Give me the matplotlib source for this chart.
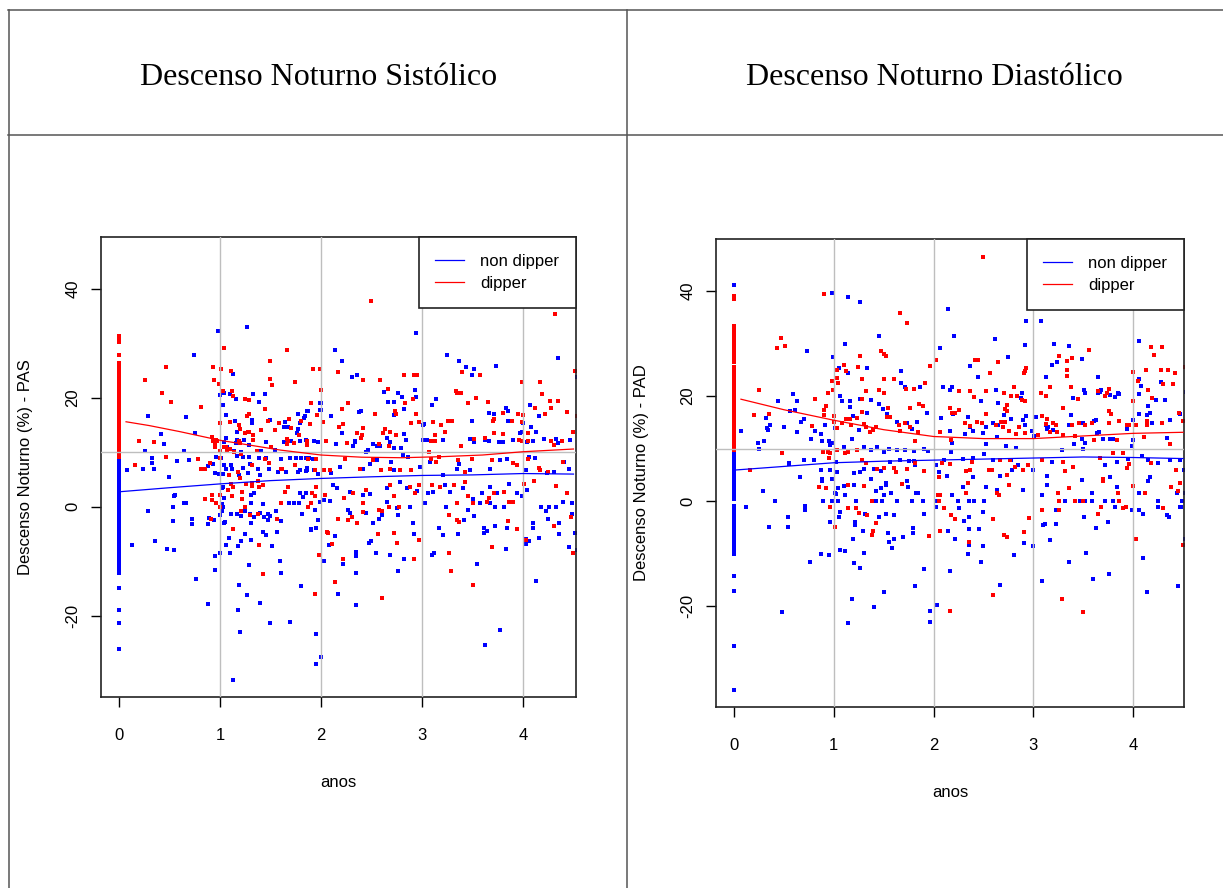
import matplotlib
matplotlib.use('Agg')
import matplotlib.pyplot as plt
from matplotlib.lines import Line2D

W, H = 1223, 888

# ---- Descenso Noturno Sistolico (PAS) ----
pas_non_dipper = [
    (0.98,32.3),(1.27,33.0),(0.74,27.8),(1.13,24.3),(0.29,16.7),(0.66,16.5),(0.75,13.5),(0.42,13.4),
    (0.45,11.5),(0.64,10.3),(0.26,10.3),(0.33,8.9),(0.33,8.1),(0.57,8.4),(0.69,8.6),(0.50,5.4),
    (0.24,7.0),(0.35,6.9),(0.08,6.8),(0.84,7.0),(0.93,7.8),(0.88,7.4),(1.04,20.9),(1.00,20.6),
    (1.10,20.7),(1.33,20.7),(1.45,20.7),(1.39,19.2),(1.16,19.8),(1.03,18.6),(1.06,16.9),(1.15,15.7),
    (1.10,15.6),(1.32,16.0),(1.32,15.4),(1.50,16.0),(1.64,15.5),(1.67,14.7),(1.63,14.6),(1.77,17.0),
    (1.87,17.5),(2.00,19.1),(2.00,17.7),(1.79,15.3),(1.83,16.2),(1.77,14.3),(1.76,13.6),(1.17,13.7),
    (1.17,12.3),(1.24,12.3),(1.06,12.6),(1.04,11.9),(1.07,11.0),(1.16,11.7),(1.29,11.4),(1.46,11.9),
    (1.41,10.2),(1.54,10.4),(1.63,11.8),(1.70,12.1),(1.79,12.0),(1.85,12.2),(1.93,12.1),(1.97,11.9),
    (1.75,8.9),(1.80,8.9),(1.85,8.9),(1.88,8.9),(1.60,8.8),(1.69,8.9),(1.39,8.9),(1.46,8.9),
    (1.29,9.2),(1.17,9.3),(1.23,9.1),(1.14,10.2),(1.21,10.0),(0.96,9.1),(1.01,8.9),(1.04,7.6),
    (1.11,7.7),(1.23,7.1),(1.30,7.8),(1.38,7.0),(1.49,6.9),(1.57,6.3),(1.65,6.3),(1.77,6.3),
    (1.86,7.2),(1.85,6.5),(1.93,6.8),(1.97,6.0),(0.95,6.2),(0.99,6.0),(1.03,6.1),(1.06,7.0),
    (1.12,6.9),(1.19,5.8),(1.28,6.2),(1.40,5.8),
    (2.94,31.9),(2.14,28.8),(2.21,26.7),(2.31,23.9),(2.36,24.2),(3.25,27.8),(3.37,26.7),(3.44,25.6),
    (3.52,25.2),(3.50,24.2),(3.73,25.8),(4.35,27.3),(4.53,23.9),(2.62,21.0),(2.66,19.2),(2.72,19.2),
    (2.76,20.8),(2.80,20.2),(2.93,21.5),(2.94,20.2),(2.82,17.9),(2.72,16.8),(2.38,17.3),(2.40,17.6),
    (2.10,16.6),(1.99,19.0),(1.99,17.8),(1.84,16.6),(1.86,17.5),(3.10,18.7),(3.14,19.7),(3.01,15.0),
    (3.02,15.2),(3.50,15.8),(3.66,17.2),(3.71,17.0),(3.83,18.1),(3.85,17.6),(3.85,15.8),(4.07,18.6),
    (4.08,14.6),(4.13,13.8),(4.16,16.6),(4.00,15.4),(2.21,13.5),(2.15,11.6),(2.32,11.1),(2.34,11.8),
    (2.34,12.1),(2.52,11.5),(2.55,11.2),(2.65,12.7),(2.68,11.8),(2.58,11.1),(2.47,10.4),(2.45,10.1),
    (2.72,10.7),(2.79,10.7),(2.82,13.4),(2.84,12.3),(3.01,12.3),(3.05,12.3),(3.21,12.3),(3.48,12.4),
    (3.52,11.9),(3.62,12.3),(3.66,12.1),(3.76,11.8),(3.80,11.9),(3.90,12.2),(3.97,13.6),(3.99,13.7),
    (4.04,11.8),(4.10,12.0),(4.21,12.4),(4.33,12.4),(4.47,12.2),(4.35,11.7),
    (1.79,6.8),(1.86,6.7),(1.92,8.7),(2.10,6.2),(2.19,7.3),(2.42,7.0),(2.49,7.8),(2.55,8.5),
    (2.69,8.2),(2.72,6.8),(2.81,9.5),(2.86,9.2),(2.98,7.3),(3.08,8.3),(3.21,5.9),(3.35,6.9),
    (3.37,7.8),(3.48,6.7),(3.67,7.0),(3.77,8.6),(3.84,8.8),(4.03,6.8),(4.06,9.2),(4.12,8.9),
    (4.24,6.2),(4.31,6.4),(4.41,8.2),(4.46,6.9),
    (0.54,2.0),(0.55,2.2),(0.64,0.7),(0.66,0.7),(0.53,-0.1),(0.53,-2.6),(0.29,-0.8),(0.72,-2.3),
    (0.72,-3.1),(0.88,-3.1),(0.89,-2.1),(0.94,-2.4),(0.95,-9.0),(1.00,-8.4),(0.95,-11.6),(0.76,-13.3),
    (0.48,-7.8),(0.54,-7.9),(0.36,-6.3),(0.13,-7.0),(0.88,-17.9),(1.18,-18.9),(1.20,-23.0),(1.13,-31.8),
    (1.19,-14.4),(1.27,-16.1),(1.29,-10.7),(1.10,-8.5),(1.09,-5.8),(1.06,-7.1),(1.21,-6.2),(1.18,-7.2),
    (1.31,-6.1),(1.25,-5.0),(1.43,-4.6),(1.46,-5.2),(1.52,-7.2),(1.56,-4.6),(1.59,-9.9),(1.60,-12.2),
    (1.40,-17.7),(1.50,-21.4),(1.69,-21.2),(1.80,-14.6),(1.95,-23.3),(1.95,-28.9),
    (1.00,-1.5),(1.02,-0.8),(1.04,-2.9),(1.05,-2.7),(1.11,-1.3),(1.17,-1.3),(1.21,-1.7),(1.25,-0.7),
    (1.30,-1.35),(1.31,-3.0),(1.34,-1.85),(1.40,-1.1),(1.44,-1.8),(1.48,-1.4),(1.48,-2.45),(1.50,-1.6),
    (1.55,-0.8),(1.60,-2.6),(1.03,3.6),(1.02,3.4),(1.04,1.7),(1.02,0.6),(1.03,-0.1),(1.22,1.5),
    (1.31,2.2),(1.34,2.45),(1.31,0.7),(1.43,0.6),(1.68,0.75),(1.73,0.7),(1.78,0.7),(1.81,-1.35),
    (1.82,1.8),(1.79,2.6),(1.85,2.5),(1.90,-4.1),(1.90,-4.3),(1.95,-3.9),(1.94,-0.6),(1.97,-2.5),
    (1.99,0.8),
    (2.00,-27.6),(2.17,-16.0),(2.35,-18.0),(2.35,-12.2),(2.35,-9.1),(2.35,-8.3),(2.22,-10.5),(2.22,-9.6),
    (2.08,-7.0),(2.14,-5.4),(2.03,-10.0),(2.48,-6.6),(2.50,-6.3),(2.54,-8.5),(2.68,-8.9),(2.82,-9.6),
    (2.76,-11.8),(2.52,-3.0),(2.57,-2.3),(2.60,-1.5),(2.76,-1.5),(2.91,-3.0),(2.92,-5.0),(2.95,2.9),
    (3.10,-8.9),(3.12,-8.5),(3.17,-3.9),(3.21,-5.2),(3.54,-10.5),(3.62,-25.4),(3.77,-22.6),(3.36,-5.0),
    (3.42,-2.45),(3.52,-1.7),(3.61,-3.9),(3.61,-4.8),(3.64,-4.4),(3.72,-3.5),(3.84,-3.9),(3.83,-7.8),
    (4.03,-6.0),(4.06,-6.3),(4.03,-6.9),(4.10,-3.0),(4.10,-3.9),(4.16,-5.8),(4.13,-13.6),(4.25,-2.3),
    (4.36,-3.0),(4.36,-5.0),(4.46,-7.4),(4.53,-7.9),(4.52,-4.8),(4.49,-1.35),
    (2.12,4.0),(2.16,3.5),(2.29,2.7),(2.42,2.2),(2.49,2.4),(2.65,3.4),(2.78,4.6),(2.85,3.4),
    (3.06,2.5),(3.11,2.8),(3.23,4.0),(3.28,2.8),(3.41,3.5),(3.59,2.5),(3.67,3.6),(3.74,2.5),
    (3.86,4.2),(3.94,2.5),(3.99,1.9),(4.04,3.1),(2.03,1.3),(2.09,1.0),(2.27,-0.55),(2.29,-1.2),
    (2.45,-1.2),(2.65,0.8),(2.75,-0.24),(2.88,0.05),(3.03,0.7),(3.24,-0.06),(3.46,-0.67),(3.51,1.4),
    (3.57,0.7),(3.67,0.7),(3.72,-0.06),(3.81,-0.06),(3.90,0.8),(4.18,-0.06),(4.26,-0.06),(4.33,0.05),
    (4.40,0.8),(4.49,0.7),(4.23,-0.86),
]
pas_dipper = [
    (1.04,29.2),(0.47,25.7),(0.93,25.7),(1.01,25.2),(1.11,25.0),(1.50,26.7),(1.66,28.7),(1.92,25.3),
    (1.99,25.3),(0.26,23.2),(0.94,23.2),(0.99,22.5),(1.50,23.5),(1.52,22.3),(1.74,22.9),(0.43,20.9),
    (0.52,19.3),(1.03,21.3),(1.12,21.3),(1.13,20.3),(1.25,19.8),(1.29,19.6),(1.45,17.9),(1.90,19.1),
    (2.00,21.5),(0.81,18.3),(1.00,15.4),(1.10,15.6),(1.29,17.0),(1.27,16.6),(1.19,15.0),(1.20,14.2),
    (1.25,13.6),(1.28,13.7),(1.29,13.7),(1.33,13.2),(1.41,14.0),(1.54,14.0),(1.48,15.7),(1.58,15.4),
    (1.68,16.1),(1.70,14.4),(1.80,15.7),(1.89,15.1),(1.96,16.9),(1.86,12.1),(1.86,11.4),(1.66,12.4),
    (1.67,12.1),(1.78,13.2),(0.20,12.0),(0.35,11.9),(0.92,12.8),(0.93,12.0),(0.96,12.2),(0.97,12.1),
    (0.95,11.6),(0.95,11.0),(1.04,11.0),(1.06,10.9),(1.07,10.3),(1.10,10.6),(1.19,12.0),(1.20,11.7),
    (1.33,12.3),(1.14,10.1),(1.21,9.7),(1.37,10.3),(1.51,10.9),(1.66,11.6),(1.73,11.7),(0.47,9.1),
    (0.78,8.8),(0.90,8.1),(1.00,8.9),(1.00,10.2),(0.16,7.7),(0.81,6.9),(0.85,6.9),(1.09,5.8),
    (1.18,6.4),(1.20,5.3),(1.32,7.6),(1.45,8.8),(1.49,8.0),(1.60,6.9),(1.61,6.9),(1.74,7.6),
    (1.87,8.8),(1.94,6.8),(1.95,8.8),
    (2.50,37.8),(4.32,35.4),(2.17,24.7),(2.42,23.2),(2.58,23.2),(2.66,21.6),(2.82,24.2),(2.92,24.2),
    (2.95,24.2),(2.27,19.1),(2.21,17.9),(2.53,17.1),(2.73,17.5),(2.74,17.1),(2.83,19.1),(2.91,19.7),
    (2.94,17.0),(3.34,21.2),(3.39,20.8),(3.35,20.8),(3.40,24.7),(3.57,24.2),(3.53,19.9),(3.46,19.0),
    (3.65,19.3),(3.99,22.9),(4.17,22.9),(4.19,20.7),(4.27,19.4),(4.35,19.4),(4.12,18.1),(4.22,17.1),
    (4.28,18.2),(4.52,25.0),(4.53,16.6),
    (2.02,15.5),(2.05,12.0),(2.18,14.7),(2.22,15.2),(2.26,11.7),(2.36,13.5),(2.42,14.5),(2.40,12.6),
    (2.41,13.2),(2.61,13.6),(2.63,14.3),(2.68,13.8),(2.74,13.2),(2.67,11.1),(2.57,11.5),(2.89,15.3),
    (2.97,15.5),(3.11,15.5),(3.26,15.8),(3.30,15.8),(3.19,15.0),(3.13,13.1),(3.09,12.1),(3.13,12.0),
    (3.23,13.8),(3.39,11.2),(3.52,12.5),(3.62,12.7),(3.71,13.6),(3.80,13.4),(3.71,16.1),(3.70,15.8),
    (3.80,17.2),(3.89,15.7),(3.95,17.1),(3.99,15.5),(4.05,13.6),(3.96,12.3),(3.99,12.1),(4.05,12.0),
    (4.28,12.1),(4.31,11.4),(4.39,12.0),(4.50,13.8),(4.44,17.3),(4.00,16.8),
    (2.03,6.7),(2.09,6.8),(2.24,8.7),(2.39,7.0),(2.52,8.5),(2.59,6.8),(2.68,7.0),(2.78,6.8),
    (2.89,6.8),(3.07,10.0),(3.09,8.7),(3.14,8.3),(3.17,9.2),(3.36,8.5),(3.43,6.4),(3.50,8.7),
    (3.69,8.6),(3.90,8.0),(3.94,7.6),(4.05,8.8),(4.16,7.1),(4.25,6.4),(4.17,6.8),(4.40,8.3),
    (0.85,1.4),(0.92,2.1),(0.92,1.2),(0.96,0.7),(0.91,-2.2),(1.00,2.1),(1.00,-0.1),(1.11,4.2),
    (1.13,3.6),(1.08,3.1),(1.12,2.0),(1.13,-4.1),(1.21,-0.75),(1.22,1.4),(1.22,2.8),(1.25,-0.06),
    (1.26,4.2),(1.30,-1.5),(1.32,3.9),(1.32,4.3),(1.38,4.8),(1.39,3.6),(1.43,4.0),(1.38,-1.3),
    (1.39,-7.0),(1.43,-12.3),(1.56,-2.3),(1.60,0.7),(1.64,2.8),(1.67,3.6),(1.87,-0.06),(1.90,0.7),
    (1.91,2.5),(1.94,2.0),(1.95,3.6),(1.98,-8.9),(1.94,-16.0),
    (2.14,-13.8),(2.22,-9.6),(2.11,-6.8),(2.06,-4.7),(2.07,-4.8),(2.60,-16.8),(2.56,-5.0),(2.72,-4.8),
    (2.75,-6.7),(2.97,-6.1),(2.92,-9.6),(3.27,-8.5),(3.29,-11.8),(3.51,-14.4),(3.69,-7.3),(3.94,-4.1),
    (4.03,-6.1),(4.31,-3.5),(4.50,-8.5),(4.48,-1.9),(2.17,-2.3),(2.27,-2.5),(2.36,-3.0),(2.31,-1.8),
    (2.57,-0.6),(2.60,-0.7),(2.42,-0.9),(2.42,0.7),(2.67,-0.06),(2.77,-0.06),(3.35,-2.45),(3.37,-2.75),
    (3.27,-1.5),(3.35,0.7),(3.51,0.7),(3.66,1.6),(3.64,0.9),(3.85,-2.6),(3.86,0.8),(3.90,0.8),
    (3.81,2.7),(3.71,2.5),(4.01,4.2),(4.11,4.8),(4.33,3.9),(4.44,2.5),(2.04,2.2),(2.23,1.7),
    (2.32,2.5),(2.45,3.1),(2.68,3.95),(2.72,1.9),(2.88,3.7),(2.93,2.5),(2.97,4.0),(3.10,4.0),
    (3.18,3.6),(3.32,4.0),(3.43,4.5),(3.46,2.0),
]
# values recorded at anos = 0 (the dense column at the left)
pas_non_dipper_at0 = [8.6, 8.1, 7.6, 7.0, 6.5, 6.0, 5.4, 4.9, 4.3, 3.8, 3.3, 2.7, 2.2, 1.6, 1.1, 0.6,
                      0.0, -0.5, -1.1, -1.6, -2.2, -2.7, -3.2, -3.8, -4.3, -4.9, -5.4, -5.9, -6.5,
                      -7.0, -7.8, -8.4, -9.0, -9.5, -10.1, -10.6, -11.2, -11.7, -12.2,
                      -14.9, -19.0, -21.4, -26.1]
pas_dipper_at0 = [31.4, 31.0, 30.2, 27.8, 26.4, 25.9, 25.3, 24.8, 24.2, 23.7, 23.1, 22.6, 22.0, 21.5,
                  20.9, 20.4, 19.8, 19.3, 18.7, 18.2, 17.6, 17.1, 16.5, 16.0, 15.4, 14.9, 14.3, 13.8,
                  13.2, 12.7, 12.1, 11.6, 11.0, 10.5, 9.9, 9.4, 9.2]
pas_non_curve_x = [0.0, 0.5, 1.0, 1.5, 2.0, 2.5, 3.0, 3.5, 4.0, 4.5]
pas_non_curve_y = [2.75, 3.5, 4.2, 4.8, 5.2, 5.5, 5.75, 5.85, 6.1, 6.0]
pas_dip_curve_x = [0.07, 0.3, 0.6, 1.0, 1.3, 1.6, 2.0, 2.4, 2.8, 3.2, 3.6, 4.0, 4.3, 4.5]
pas_dip_curve_y = [15.6, 14.9, 13.8, 12.2, 11.3, 10.4, 9.5, 9.1, 9.0, 9.2, 9.5, 10.1, 10.4, 10.6]

# ---- Descenso Noturno Diastolico (PAD) ----
pad_non_dipper = [
    (0.98,39.6),(1.14,38.8),(1.26,37.9),(1.45,31.5),(1.11,29.9),(0.73,28.6),(0.99,27.5),(1.05,25.4),
    (1.33,25.4),(1.14,24.3),(1.67,24.7),(1.67,22.5),(1.71,21.7),(1.86,21.8),(0.59,20.3),(0.63,19.0),
    (0.44,19.0),(0.56,17.1),(0.61,17.3),(0.70,15.7),(0.67,15.0),(0.32,15.9),(0.36,14.5),(0.33,14.0),
    (0.34,13.5),(0.50,14.1),(0.63,13.1),(0.07,13.4),(0.24,11.0),(0.30,11.5),(0.25,10.0),(0.77,11.9),
    (0.81,13.4),(0.87,12.8),(0.88,11.4),(0.95,11.4),(0.96,10.7),(0.99,11.0),(1.01,14.0),(0.91,14.5),
    (1.06,20.1),(1.08,19.0),(1.16,19.0),(1.16,17.9),(1.26,19.5),(1.37,19.2),(1.19,16.2),(1.33,16.7),
    (1.45,18.5),(1.49,17.5),(1.53,16.6),(1.63,15.1),(1.73,14.8),(1.78,13.7),(1.83,15.1),(1.93,16.7),
    (1.03,9.7),(1.10,10.35),(1.18,11.9),(1.25,13.5),(1.30,10.35),(1.37,9.7),(1.43,10.35),(1.50,9.4),
    (1.55,10.0),(1.63,9.7),(1.71,9.7),(1.80,9.5),(1.90,9.9),(1.94,9.5),
    (0.55,7.2),(0.55,7.0),(0.70,7.9),(0.80,7.9),(0.87,6.0),(0.96,5.9),(1.02,7.5),(1.03,5.6),
    (1.20,5.3),(1.26,5.6),(1.30,6.2),(1.40,6.2),(1.47,5.8),(1.56,7.5),(1.66,7.8),(1.75,7.6),
    (1.80,7.7),(1.81,6.9),(0.66,4.5),(0.88,4.3),(0.98,4.3),(1.37,4.3),
    (2.14,36.6),(2.93,34.3),(3.08,34.3),(2.21,31.5),(2.62,30.9),(2.06,29.1),(2.92,29.8),(3.21,30.0),
    (3.36,29.6),(4.06,30.4),(2.37,25.7),(2.75,27.4),(3.49,27.0),(3.19,26.0),(3.24,26.5),(2.45,23.7),
    (2.48,19.0),(2.65,18.6),(3.13,23.7),(3.65,23.6),(4.06,23.3),(4.08,21.9),(4.06,20.3),(4.28,22.6),
    (4.53,20.7),(2.09,21.8),(2.19,21.8),(2.17,21.2),(2.63,21.2),(2.89,20.5),(2.88,19.7),(3.40,19.6),
    (3.51,21.2),(3.52,20.6),(3.65,20.5),(3.67,20.8),(3.68,21.2),(3.77,20.2),(3.85,20.5),(3.86,20.3),
    (3.82,19.9),(4.15,18.1),(4.17,16.7),(4.23,19.2),(4.32,19.3),
    (2.07,15.9),(2.17,13.3),(2.20,16.6),(2.35,16.0),(2.37,14.2),(2.40,13.4),(2.53,14.2),(2.60,14.8),
    (2.65,14.5),(2.71,16.3),(2.78,15.6),(2.93,16.2),(3.03,16.0),(2.90,15.4),(2.92,14.5),(2.99,13.3),
    (3.13,14.4),(3.14,13.7),(3.20,13.5),(3.36,14.4),(3.38,16.3),(3.50,14.9),(3.61,15.3),(3.63,15.4),
    (3.66,13.2),(3.79,11.9),(3.80,11.9),(3.64,12.9),(3.94,13.8),(4.00,15.4),(4.06,16.5),(4.14,16.3),
    (4.19,14.9),(4.37,15.4),(4.47,16.5),
    (2.19,11.0),(2.32,12.8),(2.50,12.9),(2.53,10.9),(2.64,12.2),(2.73,10.5),(2.83,10.1),(3.01,12.4),
    (3.15,14.2),(3.41,10.9),(3.49,11.9),(3.52,11.0),(3.70,11.9),(3.77,11.9),(4.00,11.6),(3.99,10.5),
    (4.34,12.0),
    (2.02,6.9),(2.10,7.8),(2.18,9.3),(2.30,8.1),(2.40,8.3),(2.51,8.9),(2.60,7.8),(2.67,7.8),
    (2.78,7.8),(2.85,6.9),(3.00,6.0),(3.19,7.5),(3.29,9.7),(3.40,6.4),(3.50,9.9),(3.72,6.9),
    (3.84,7.5),(3.95,8.1),(4.09,8.5),(4.15,7.8),(4.25,7.2),(4.37,7.8),(4.47,7.8),(4.51,5.9),
    (3.77,4.6),(3.14,4.8),(4.17,4.6),(2.05,5.6),(2.13,4.8),(2.40,4.6),(2.67,4.7),(2.79,6.0),
    (0.12,-1.2),(0.29,2.0),(0.41,-0.05),(0.54,-3.1),(0.35,-5.0),(0.54,-5.0),(0.48,-21.2),(0.71,-1.0),
    (0.71,-1.6),(0.76,-11.5),(0.89,-0.05),(0.88,3.9),(0.96,-3.9),(0.87,-10.0),(0.95,-10.3),(0.98,-0.05),
    (1.01,1.5),(1.02,1.3),(1.04,2.4),(1.04,-0.05),(1.06,-2.0),(1.05,-3.1),(1.06,-9.3),(1.11,-9.5),
    (1.11,1.2),(1.10,2.8),(1.19,-7.3),(1.20,3.0),(1.22,-0.05),(1.21,-4.0),(1.21,-4.6),(1.20,-11.7),
    (1.26,-12.8),(1.14,-23.3),(1.18,-18.7),(1.30,-9.8),(1.29,-5.6),(1.31,-2.5),(1.40,-20.1),(1.42,2.0),
    (1.42,-0.05),(1.45,-3.1),(1.48,-0.05),(1.47,2.4),(1.50,1.2),(1.52,3.5),(1.52,3.0),(1.52,-2.5),
    (1.54,-6.0),(1.55,-7.8),(1.58,-9.0),(1.60,-7.3),(1.57,1.5),(1.60,-2.7),(1.50,-17.4),(1.63,-0.05),
    (1.69,-6.9),(1.74,2.6),(1.73,3.8),(1.78,-0.05),(1.79,-5.2),(1.79,-6.0),(1.81,-16.1),(1.82,1.5),
    (1.84,1.5),(1.89,-0.05),(1.90,-2.5),(1.90,-13.0),(1.96,-21.0),(1.96,-23.1),
    (2.03,-19.7),(2.17,-13.4),(2.14,-5.6),(2.22,-7.3),(2.36,-5.4),(2.35,-10.0),(2.36,-8.3),(2.46,-5.4),
    (2.48,-11.5),(2.50,-8.6),(2.67,-15.9),(2.81,-10.3),(2.91,-7.9),(3.00,-8.6),(3.09,-15.3),(3.10,-4.6),
    (3.12,-4.3),(3.17,-7.5),(3.23,-4.3),(3.36,-11.5),(3.53,-9.8),(3.60,-14.9),(3.63,-5.2),(3.51,-3.1),
    (3.76,-13.8),(3.75,-3.9),(4.10,-10.9),(4.14,-17.4),(4.10,-2.5),(4.34,-2.7),(4.36,-3.1),(4.45,-16.1),
    (4.48,-1.2),(4.52,-7.3),(2.31,-3.7),(2.36,-3.1),(2.50,-2.0),
    (2.90,2.1),(3.14,3.0),(3.49,4.0),(3.59,1.5),(3.84,2.6),(4.06,1.5),(4.15,3.9),(4.44,1.5),
    (4.49,-0.05),(4.52,1.5),(2.02,-0.05),(2.02,-1.2),(2.19,1.1),(2.25,-0.05),(2.26,-1.4),(2.30,2.7),
    (2.36,-0.05),(2.41,-0.05),(2.51,-0.05),(2.53,2.6),(2.64,2.1),(3.09,1.1),(3.23,-1.6),(3.32,-0.05),
    (3.47,-0.05),(3.52,-0.05),(3.59,-0.05),(3.72,-0.05),(3.80,-0.05),(3.82,-1.2),(3.99,-1.6),(4.06,-1.6),
    (4.25,-0.05),(4.25,-1.2),(4.47,-1.2),
]
pad_dipper = [
    (0.90,39.4),(1.66,35.8),(1.73,34.0),(0.47,31.0),(0.43,29.1),(0.51,29.6),(1.47,28.5),(1.50,28.0),
    (1.52,27.6),(1.26,27.6),(0.25,21.1),(0.20,16.3),(0.35,16.5),(0.81,19.5),(0.92,18.2),(0.94,20.6),
    (0.98,22.8),(0.99,21.1),(1.03,24.9),(1.03,23.4),(1.04,22.4),(1.10,25.9),(1.12,24.7),(1.24,25.6),
    (1.28,23.3),(1.32,21.0),(1.28,19.4),(1.45,21.1),(1.50,20.5),(1.50,23.3),(1.60,23.2),(1.72,21.3),
    (1.80,21.4),(1.76,17.8),(1.85,18.4),(1.89,18.2),(1.91,22.5),(1.96,25.7),(0.78,14.3),(0.90,16.3),
    (0.90,17.4),(1.00,16.2),(1.00,15.0),(1.03,14.0),(1.08,14.8),(1.12,15.7),(1.17,14.4),(1.16,15.6),
    (1.23,15.9),(1.28,17.0),(1.30,14.6),(1.32,14.2),(1.42,14.2),(1.39,13.5),(1.36,13.2),(1.54,17.7),
    (1.53,16.0),(1.56,16.0),(1.65,14.5),(1.66,13.3),(1.71,14.8),(1.76,14.2),(1.81,11.4),(1.84,13.2),
    (0.48,9.1),(0.16,6.0),(0.89,9.3),(0.94,9.4),(1.03,9.7),(1.11,9.2),(1.14,9.4),(1.23,9.7),
    (1.28,7.8),(1.32,7.2),(1.43,6.2),(1.50,6.3),(1.60,6.3),(1.62,5.6),(1.73,6.2),(1.81,7.2),
    (1.90,5.7),(0.95,8.3),(0.96,9.1),
    (2.50,46.4),(4.32,42.4),(2.02,26.9),(2.42,26.9),(2.45,26.9),(2.65,26.4),(2.57,24.3),(2.91,24.3),
    (2.92,24.7),(2.93,25.3),(3.26,27.6),(3.39,27.3),(3.34,26.7),(3.56,28.7),(3.34,24.9),(3.34,23.8),
    (4.18,29.4),(4.29,29.4),(4.21,27.8),(4.00,24.5),(4.13,25.0),(4.28,25.0),(4.35,25.0),(4.42,24.3),
    (4.52,25.6),(2.26,21.0),(2.37,21.0),(2.41,19.8),(2.53,20.9),(2.71,20.5),(2.78,20.0),(2.84,20.0),
    (2.81,21.7),(2.72,17.6),(2.74,18.3),(2.74,17.1),(2.89,19.2),(2.92,19.1),(3.08,20.5),(3.13,20.0),
    (3.17,21.7),(3.30,17.7),(3.38,21.7),(3.45,19.5),(3.65,21.0),(3.76,21.4),(3.74,20.5),(3.72,20.0),
    (3.76,17.2),(4.00,19.0),(4.05,22.8),(4.15,21.2),(4.19,19.7),(4.30,22.2),(4.40,22.2),(4.46,16.7),
    (4.50,15.3),(4.52,15.3),(4.29,14.9),(4.14,15.3),(4.14,14.5),(3.96,14.5),(4.03,14.5),(3.86,15.2),
    (3.78,16.6),(3.76,14.9),(3.59,14.9),(3.46,14.9),(3.39,14.4),(3.20,14.9),(3.23,14.5),(3.14,15.6),
    (3.13,14.6),(3.09,16.2),
    (2.19,16.7),(2.22,16.8),(2.16,17.8),(2.26,17.3),(2.06,13.1),(2.18,11.6),(2.32,14.8),(2.37,14.3),
    (2.44,15.0),(2.49,14.8),(2.53,16.6),(2.63,14.4),(2.68,15.1),(2.70,14.1),(2.72,15.0),(2.76,13.3),
    (2.86,14.1),(2.83,12.8),(2.92,12.9),(3.05,12.6),(3.17,13.2),(3.24,13.1),(3.30,12.6),(3.42,12.4),
    (3.52,14.5),(3.61,11.6),(3.84,11.6),(3.94,14.5),(4.11,12.2),(4.37,10.9),
    (2.05,4.6),(2.08,7.2),(2.16,7.0),(2.33,5.8),(2.37,5.9),(2.39,7.5),(2.56,5.9),(2.59,6.0),
    (2.67,7.8),(2.74,4.9),(2.77,7.8),(2.82,6.5),(2.90,5.9),(2.95,6.8),(3.09,7.8),(3.30,7.5),
    (3.32,5.8),(3.40,6.4),(3.67,8.2),(3.70,4.3),(3.80,9.2),(3.90,9.2),(3.94,6.3),(3.96,7.0),
    (4.18,7.2),(4.43,6.0),
    (0.85,2.6),(0.92,2.4),(0.96,-1.2),(1.01,-5.0),(1.14,3.0),(1.14,-1.4),(1.22,-1.4),(1.25,-2.35),
    (1.30,2.8),(1.33,-2.7),(1.38,-0.05),(1.39,-5.6),(1.38,-6.5),(1.42,-4.2),(1.68,3.2),(1.95,-6.7),
    (2.16,-21.0),(2.60,-17.8),(3.29,-18.7),(3.50,-21.2),(4.03,-7.3),(4.50,-8.4),(2.06,-5.6),(2.36,-7.7),
    (2.71,-6.5),(2.74,-6.9),(2.91,-5.8),(2.96,-3.3),(3.09,-1.6),(3.26,-1.6),(2.60,-3.5),(2.22,-3.5),
    (2.18,-2.7),(2.10,-1.4),(2.04,1.2),(2.06,1.2),(2.05,-0.05),(2.33,1.5),(2.35,3.5),(2.64,1.5),
    (2.66,1.1),(3.25,1.6),(3.26,-0.05),(3.42,-0.05),(3.50,-0.05),(3.36,2.4),(3.65,-2.5),(3.68,-1.2),
    (3.86,-0.05),(3.90,-1.4),(3.93,-1.2),(4.30,-1.4),(4.12,1.5),(4.38,2.6),(4.45,2.0),(4.47,3.5),
    (3.70,3.9),(3.85,1.6),(4.00,2.8),(2.76,3.0),
]
pad_non_dipper_at0 = [41.1, 9.4, 8.9, 8.4, 7.9, 7.4, 6.9, 6.4, 5.9, 5.4, 4.9, 4.4, 3.9, 3.4, 2.9, 2.4,
                      1.9, 1.4, 0.9, 0.4, -1.0, -1.5, -2.0, -2.5, -3.0, -3.5, -4.0, -4.5, -5.0, -5.5,
                      -6.0, -6.5, -7.0, -7.5, -8.0, -8.5, -9.0, -9.5, -10.0,
                      -14.2, -17.1, -27.5, -35.9]
pad_dipper_at0 = [39.0, 38.4, 33.4, 32.9, 32.3, 31.8, 31.2, 30.7, 30.1, 29.6, 29.0, 28.5, 28.0, 27.2,
                  26.4, 25.6, 25.0, 24.5, 23.9, 23.4, 22.8, 22.3, 21.7, 21.2, 20.6, 20.1, 19.5, 19.0,
                  18.4, 17.9, 17.3, 16.8, 16.2, 15.7, 15.1, 14.6, 14.0, 13.5, 12.9, 12.4, 11.8, 11.3,
                  10.7, 10.2, 9.7]
pad_non_curve_x = [0.0, 0.5, 1.0, 1.5, 2.0, 2.5, 3.0, 3.5, 4.0, 4.5]
pad_non_curve_y = [5.9, 6.6, 7.3, 7.6, 7.8, 8.0, 8.2, 8.4, 8.3, 8.1]
pad_dip_curve_x = [0.07, 0.5, 1.0, 1.5, 2.0, 2.5, 3.0, 3.5, 4.0, 4.5]
pad_dip_curve_y = [19.4, 17.4, 15.4, 13.6, 12.3, 11.9, 11.9, 12.4, 12.9, 13.1]

titles = ['Descenso Noturno Sistólico', 'Descenso Noturno Diastólico']
ylabels = ['Descenso Noturno (%) - PAS', 'Descenso Noturno (%) - PAD']
legend_labels = ['non dipper', 'dipper']
xticks = [0, 1, 2, 3, 4]
yticks = [-20, 0, 20, 40]

plt.rcParams['font.family'] = ['Liberation Sans', 'DejaVu Sans']
plt.rcParams['axes.unicode_minus'] = False

fig = plt.figure(figsize=(W / 100, H / 100), dpi=100)


def fx(x):
    return x / W


def fy(y):
    return 1 - y / H


# table frame around the two panels
tcol = '#555555'
for (x0, y0, x1, y1) in [(8, 10, W, 10), (8, 135, W, 135), (9, 10, 9, H), (627, 10, 627, H)]:
    fig.add_artist(Line2D([fx(x0), fx(x1)], [fy(y0), fy(y1)], color=tcol, lw=1.1))

fig.text(fx(319), fy(77), titles[0], family='Liberation Serif', fontsize=23, ha='center', va='center')
fig.text(fx(934), fy(77), titles[1], family='Liberation Serif', fontsize=23, ha='center', va='center')


def panel(rect, non_pts, dip_pts, non0, dip0, ncx, ncy, dcx, dcy, ylabel, xlim, ylim):
    ax = fig.add_axes(rect)
    ax.set_xlim(*xlim)
    ax.set_ylim(*ylim)
    for v in [1, 2, 3, 4]:
        ax.axvline(v, color='#bebebe', lw=1.0, zorder=3)
    ax.axhline(10, color='#bebebe', lw=1.0, zorder=3)
    ax.plot([p[0] for p in non_pts], [p[1] for p in non_pts], 's', color='#0000ff', ms=2.9, mew=0, zorder=2)
    ax.plot([p[0] for p in dip_pts], [p[1] for p in dip_pts], 's', color='#ff0000', ms=2.9, mew=0, zorder=2)
    ax.plot([0] * len(non0), non0, 's', color='#0000ff', ms=2.9, mew=0, zorder=2)
    ax.plot([0] * len(dip0), dip0, 's', color='#ff0000', ms=2.9, mew=0, zorder=2)
    ax.plot(ncx, ncy, color='#0000ff', lw=0.9, zorder=4)
    ax.plot(dcx, dcy, color='#ff0000', lw=0.9, zorder=4)
    ax.set_xticks(xticks)
    ax.set_yticks(yticks)
    ax.tick_params(axis='x', length=7, width=1.0, pad=15, labelsize=12)
    ax.tick_params(axis='y', length=7, width=1.0, pad=8, labelsize=12, labelrotation=90)
    for lab in ax.get_yticklabels():
        lab.set_va('center')
    for s in ax.spines.values():
        s.set_linewidth(1.2)
        s.set_color('#222222')
    ax.set_ylabel(ylabel, fontsize=12)
    ax.yaxis.set_label_coords(-0.144, 0.5)
    ax.set_xlabel('anos', fontsize=12, va='center')
    handles = [Line2D([], [], color='#0000ff', lw=0.9), Line2D([], [], color='#ff0000', lw=0.9)]
    leg = ax.legend(handles, legend_labels, loc='upper right', borderaxespad=0, fancybox=False,
                    edgecolor='#222222', framealpha=1, fontsize=12, handlelength=1.7,
                    handletextpad=1.0, borderpad=1.0, labelspacing=0.45)
    leg.get_frame().set_linewidth(1.2)
    leg.set_zorder(5)
    return ax


ax1 = panel([fx(101), fy(697), (576 - 101) / W, (697 - 237) / H],
            pas_non_dipper, pas_dipper, pas_non_dipper_at0, pas_dipper_at0,
            pas_non_curve_x, pas_non_curve_y, pas_dip_curve_x, pas_dip_curve_y,
            ylabels[0], (-0.178, 4.525), (-34.9, 49.5))
ax1.xaxis.set_label_coords(0.5, -0.185)

ax2 = panel([fx(716), fy(707), (1184 - 716) / W, (707 - 239) / H],
            pad_non_dipper, pad_dipper, pad_non_dipper_at0, pad_dipper_at0,
            pad_non_curve_x, pad_non_curve_y, pad_dip_curve_x, pad_dip_curve_y,
            ylabels[1], (-0.18, 4.51), (-39.2, 49.9))
ax2.xaxis.set_label_coords(0.5, -0.182)

fig.savefig('out.png', dpi=100)
